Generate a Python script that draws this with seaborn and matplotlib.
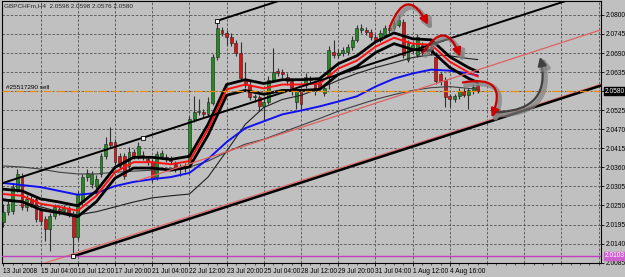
import numpy as np
import pandas as pd
import matplotlib
matplotlib.use("Agg")
import matplotlib.pyplot as plt
import matplotlib.patheffects as pe
import seaborn as sns

# GBPCHFm H4 candles, bar 0 = 13 Jul 2008 20:00
opens = [2.0203, 2.0232, 2.0235, 2.0298, 2.0335, 2.0246, 2.0269, 2.0269, 2.0235, 2.0212,
         2.0183, 2.0220, 2.0240, 2.0235, 2.0240, 2.0226, 2.0160, 2.0260, 2.0332, 2.0312,
         2.0306, 2.0341, 2.0392, 2.0433, 2.0433, 2.0392, 2.0392, 2.0364, 2.0404, 2.0392,
         2.0395, 2.0384, 2.0375, 2.0332, 2.0392, 2.0390, 2.0384, 2.0369, 2.0361, 2.0358,
         2.0369, 2.0499, 2.0519, 2.0519, 2.0513, 2.0547, 2.0679, 2.0757, 2.0748, 2.0737,
         2.0720, 2.0691, 2.0613, 2.0599, 2.0562, 2.0562, 2.0536, 2.0550, 2.0613, 2.0639,
         2.0636, 2.0622, 2.0608, 2.0550, 2.0579, 2.0599, 2.0616, 2.0605, 2.0605, 2.0576,
         2.0625, 2.0694, 2.0685, 2.0691, 2.0694, 2.0708, 2.0728, 2.0757, 2.0757, 2.0751,
         2.0737, 2.0728, 2.0743, 2.0763, 2.0763, 2.0771, 2.0780, 2.0671, 2.0700, 2.0685,
         2.0714, 2.0705, 2.0708, 2.0679, 2.0628, 2.0613, 2.0565, 2.0556, 2.0565, 2.0579,
         2.0570, 2.0579, 2.0598]
highs = [2.0255, 2.0269, 2.0315, 2.0355, 2.0344, 2.0280, 2.0278, 2.0278, 2.0243, 2.0220,
         2.0229, 2.0255, 2.0252, 2.0252, 2.0249, 2.0235, 2.0292, 2.0341, 2.0355, 2.0349,
         2.0338, 2.0401, 2.0447, 2.0476, 2.0441, 2.0401, 2.0401, 2.0418, 2.0413, 2.0433,
         2.0407, 2.0392, 2.0384, 2.0407, 2.0410, 2.0398, 2.0392, 2.0378, 2.0369, 2.0372,
         2.0507, 2.0565, 2.0556, 2.0527, 2.0562, 2.0688, 2.0783, 2.0766, 2.0757, 2.0748,
         2.0728, 2.0722, 2.0665, 2.0608, 2.0573, 2.0570, 2.0562, 2.0625, 2.0705, 2.0648,
         2.0645, 2.0631, 2.0616, 2.0593, 2.0588, 2.0631, 2.0625, 2.0613, 2.0613, 2.0599,
         2.0711, 2.0728, 2.0702, 2.0708, 2.0717, 2.0740, 2.0771, 2.0774, 2.0766, 2.0760,
         2.0745, 2.0757, 2.0771, 2.0771, 2.0786, 2.0800, 2.0788, 2.0728, 2.0722, 2.0745,
         2.0722, 2.0717, 2.0717, 2.0694, 2.0636, 2.0622, 2.0573, 2.0573, 2.0588, 2.0588,
         2.0590, 2.0602, 2.0598]
lows = [2.0189, 2.0223, 2.0226, 2.0289, 2.0237, 2.0235, 2.0246, 2.0203, 2.0194, 2.0148,
        2.0120, 2.0212, 2.0223, 2.0226, 2.0217, 2.0103, 2.0151, 2.0252, 2.0321, 2.0301,
        2.0295, 2.0332, 2.0384, 2.0415, 2.0367, 2.0355, 2.0326, 2.0355, 2.0384, 2.0384,
        2.0381, 2.0367, 2.0318, 2.0324, 2.0384, 2.0375, 2.0369, 2.0346, 2.0335, 2.0346,
        2.0361, 2.0490, 2.0510, 2.0504, 2.0504, 2.0539, 2.0671, 2.0740, 2.0714, 2.0711,
        2.0682, 2.0611, 2.0590, 2.0553, 2.0550, 2.0522, 2.0493, 2.0542, 2.0605, 2.0625,
        2.0619, 2.0599, 2.0570, 2.0527, 2.0527, 2.0590, 2.0602, 2.0570, 2.0582, 2.0565,
        2.0585, 2.0677, 2.0677, 2.0682, 2.0685, 2.0700, 2.0722, 2.0748, 2.0743, 2.0728,
        2.0720, 2.0722, 2.0737, 2.0748, 2.0757, 2.0766, 2.0677, 2.0665, 2.0691, 2.0679,
        2.0685, 2.0694, 2.0685, 2.0602, 2.0599, 2.0533, 2.0533, 2.0550, 2.0556, 2.0562,
        2.0527, 2.0573, 2.0576]
closes = [2.0232, 2.0255, 2.0303, 2.0341, 2.0246, 2.0269, 2.0255, 2.0212, 2.0206, 2.0183,
          2.0220, 2.0246, 2.0235, 2.0243, 2.0226, 2.0160, 2.0283, 2.0332, 2.0344, 2.0341,
          2.0326, 2.0392, 2.0427, 2.0424, 2.0375, 2.0364, 2.0335, 2.0404, 2.0392, 2.0421,
          2.0390, 2.0375, 2.0326, 2.0398, 2.0401, 2.0384, 2.0378, 2.0355, 2.0355, 2.0364,
          2.0499, 2.0519, 2.0522, 2.0513, 2.0550, 2.0679, 2.0763, 2.0748, 2.0737, 2.0720,
          2.0691, 2.0619, 2.0599, 2.0562, 2.0565, 2.0536, 2.0550, 2.0613, 2.0636, 2.0633,
          2.0628, 2.0608, 2.0579, 2.0585, 2.0542, 2.0622, 2.0611, 2.0579, 2.0590, 2.0590,
          2.0700, 2.0685, 2.0691, 2.0700, 2.0708, 2.0728, 2.0763, 2.0763, 2.0751, 2.0737,
          2.0728, 2.0748, 2.0763, 2.0757, 2.0777, 2.0786, 2.0685, 2.0720, 2.0714, 2.0737,
          2.0694, 2.0711, 2.0700, 2.0608, 2.0608, 2.0562, 2.0556, 2.0565, 2.0579, 2.0570,
          2.0582, 2.0593, 2.0580]

# indicator lines every 4 bars
line_bars = [0, 4, 8, 12, 16, 20, 24, 28, 32, 36, 40, 44, 48, 52, 56, 60, 64, 68,
             72, 76, 80, 84, 88, 92, 96, 100, 102]
env_upper = [2.0297, 2.0292, 2.0269, 2.0260, 2.0249, 2.0292, 2.0360, 2.0389, 2.0389,
             2.0383, 2.0392, 2.0484, 2.0599, 2.0613, 2.0602, 2.0613, 2.0613, 2.0616,
             2.0659, 2.0682, 2.0722, 2.0748, 2.0731, 2.0728, 2.0679, 2.0648, 2.0636]
env_mid = [2.0283, 2.0278, 2.0255, 2.0246, 2.0235, 2.0278, 2.0346, 2.0375, 2.0375,
           2.0369, 2.0378, 2.0470, 2.0585, 2.0599, 2.0588, 2.0599, 2.0599, 2.0602,
           2.0645, 2.0668, 2.0708, 2.0734, 2.0717, 2.0714, 2.0665, 2.0634, 2.0622]
env_lower = [2.0266, 2.0261, 2.0238, 2.0229, 2.0218, 2.0261, 2.0329, 2.0358, 2.0358,
             2.0352, 2.0361, 2.0453, 2.0568, 2.0582, 2.0571, 2.0582, 2.0582, 2.0585,
             2.0628, 2.0651, 2.0691, 2.0717, 2.0700, 2.0697, 2.0648, 2.0617, 2.0605]
ma_blue = [2.0315, 2.0309, 2.0303, 2.0292, 2.0281, 2.0286, 2.0306, 2.0318, 2.0326,
           2.0332, 2.0344, 2.0384, 2.0433, 2.0473, 2.0493, 2.0513, 2.0524, 2.0536,
           2.0550, 2.0565, 2.0593, 2.0616, 2.0631, 2.0642, 2.0639, 2.0631, 2.0625]
ma_fast = [2.0269, 2.0260, 2.0246, 2.0232, 2.0223, 2.0232, 2.0246, 2.0260, 2.0272,
           2.0278, 2.0283, 2.0332, 2.0407, 2.0484, 2.0533, 2.0556, 2.0568, 2.0588,
           2.0611, 2.0631, 2.0648, 2.0662, 2.0677, 2.0685, 2.0682, 2.0674, 2.0671]
ma_slow = [2.0364, 2.0361, 2.0355, 2.0346, 2.0341, 2.0341, 2.0346, 2.0349, 2.0352,
           2.0355, 2.0361, 2.0378, 2.0404, 2.0427, 2.0441, 2.0461, 2.0481, 2.0501,
           2.0522, 2.0539, 2.0556, 2.0570, 2.0582, 2.0590, 2.0593, 2.0588, 2.0585]

# drawn objects: (bar, price) anchors
chan_base = [(15, 2.0103), (128.5, 2.0596)]
chan_mid = [(-1, 2.0311), (128.5, 2.0873)]
chan_top = [(46, 2.0783), (128.5, 2.1141)]
pink_low = [(-1, 2.0041), (128.5, 2.0600)]
pink_trend = [(29, 2.0322), (128.5, 2.0757)]
anchor_marks = [(15, 2.0103), (30, 2.0446), (46, 2.0783)]
order_price = 2.0581
order_label = "#25517290 sell"
hline_price = 2.0103
bid_price = 2.0580
header = "GBPCHFm,H4  2.0598 2.0598 2.0576 2.0580"

tick_bars = [0, 8, 16, 24, 32, 40, 48, 56, 64, 72, 80, 88, 96]
tick_labels = ["13 Jul 2008", "15 Jul 04:00", "16 Jul 12:00", "17 Jul 20:00",
               "21 Jul 04:00", "22 Jul 12:00", "23 Jul 20:00", "25 Jul 04:00",
               "28 Jul 12:00", "29 Jul 20:00", "31 Jul 04:00", "1 Aug 12:00",
               "4 Aug 16:00"]
grid_bars = [8, 16, 24, 32, 40, 48, 56, 64, 72, 80, 88, 96, 104, 112, 120, 128]
price_ticks = [2.0800, 2.0745, 2.0690, 2.0635, 2.0580, 2.0525, 2.0470, 2.0415,
               2.0360, 2.0305, 2.0250, 2.0195, 2.0140, 2.0085]

BG = "#c0c0c0"
sns.set_style("white", {"axes.facecolor": BG, "figure.facecolor": BG})
plt.rcParams["font.family"] = ["Liberation Sans Narrow", "Liberation Sans", "DejaVu Sans"]
FS = 4.8

fig = plt.figure(figsize=(6.25, 2.77), dpi=100)
ax = fig.add_axes([0.0032, 0.0505, 0.9584, 0.9458])
ax.set_xlim(-0.3, 128.5)
ax.set_ylim(2.0084, 2.0840)

# grid
for b in grid_bars:
    ax.axvline(b, color="#505050", lw=0.6, ls=(0, (3, 2)), zorder=0)
for p in price_ticks[:-1]:
    ax.axhline(p, color="#505050", lw=0.6, ls=(0, (3, 2)), zorder=0)

# candles
df = pd.DataFrame({"o": opens, "h": highs, "l": lows, "c": closes})
df["bar"] = np.arange(len(df))
up = df["c"] >= df["o"]
ax.vlines(df["bar"], df["l"], df["h"], color="#303030", lw=0.8, zorder=2)
body = (df["c"] - df["o"]).abs().clip(lower=0.00008)
ax.bar(df["bar"], body, bottom=df[["o", "c"]].min(axis=1), width=0.62,
       color=np.where(up, "#1e8c1e", "#e01010"), edgecolor="#202020",
       linewidth=0.4, zorder=3)

# indicator lines
ind = pd.DataFrame({"bar": line_bars, "upper": env_upper, "mid": env_mid,
                    "lower": env_lower, "blue": ma_blue, "fast": ma_fast,
                    "slow": ma_slow})
sns.lineplot(data=ind, x="bar", y="slow", color="#404040", lw=0.8, ax=ax, zorder=4)
sns.lineplot(data=ind, x="bar", y="fast", color="#202020", lw=0.8, ax=ax, zorder=4)
sns.lineplot(data=ind, x="bar", y="blue", color="#1010f0", lw=1.4, ax=ax, zorder=4)
sns.lineplot(data=ind, x="bar", y="upper", color="black", lw=2.0, ax=ax, zorder=5)
sns.lineplot(data=ind, x="bar", y="lower", color="black", lw=2.0, ax=ax, zorder=5)
sns.lineplot(data=ind, x="bar", y="mid", color="#ff1010", lw=1.4, ax=ax, zorder=5)

# channel and trend lines
for pts, col, w in [(pink_low, "#e07070", 1.0), (pink_trend, "#e06060", 0.9),
                    (chan_base, "black", 1.8), (chan_mid, "black", 1.4),
                    (chan_top, "black", 1.4)]:
    xs, ys = zip(*pts)
    ax.plot(xs, ys, color=col, lw=w, zorder=6)
mx, my = zip(*anchor_marks)
ax.plot(mx, my, ls="none", marker="s", ms=3, mfc="white", mec="black", mew=0.6,
        zorder=7)

# order / price lines
ax.axhline(order_price, color="#f08c00", lw=0.9, ls=(0, (6, 2, 1, 2)), zorder=6)
ax.text(0.5, order_price + 0.0003, order_label, fontsize=4.6, va="bottom",
        ha="left", color="black", zorder=8)
ax.axhline(hline_price, color="#c040c0", lw=1.0, zorder=6)

# hand-drawn arrows
shadow = [pe.SimpleLineShadow(offset=(2, -2), shadow_color="#808080", alpha=0.7,
                              linewidth=3.5), pe.Normal()]
arrows = [((83.1, 2.0765), (91.3, 2.0771), -1.1, "#cc0000"),
          ((90.2, 2.0691), (98.2, 2.0679), -1.0, "#cc0000"),
          ((98.8, 2.0605), (105.0, 2.0504), -0.9, "#cc0000"),
          ((106.3, 2.0519), (115.4, 2.0679), 0.6, "#404040")]
for start, end, rad, col in arrows:
    a = ax.annotate("", xy=end, xytext=start, zorder=9,
                    arrowprops=dict(arrowstyle="-|>,head_length=0.5,head_width=0.25",
                                    color=col, lw=1.6, shrinkA=0, shrinkB=0,
                                    connectionstyle=f"arc3,rad={rad}"))
    a.arrow_patch.set_path_effects(shadow)

# axes styling (the black price tag stands in for the 2.0580 label)
ax.set_xticks(tick_bars)
ax.set_xticklabels(tick_labels, ha="left", fontsize=FS)
ax.set_xticks(np.arange(0, 129, 2), minor=True)
ax.yaxis.tick_right()
ax.set_yticks(price_ticks)
ax.set_yticklabels(["" if p == bid_price else f"{p:.4f}" for p in price_ticks],
                   fontsize=FS)
ax.tick_params(axis="both", which="major", length=2.5, width=0.6, pad=0.8,
               colors="black", direction="out")
ax.tick_params(axis="x", which="minor", length=1.5, width=0.5, bottom=True)
ax.tick_params(axis="x", bottom=True)
ax.set_xlabel("")
ax.set_ylabel("")
for s in ax.spines.values():
    s.set_color("black")
    s.set_linewidth(0.8)

ax.text(0.003, 0.992, header, transform=ax.transAxes, fontsize=4.6, va="top", ha="left")
yt = ax.get_yaxis_transform()
ax.text(1.006, bid_price, f"{bid_price:.4f}", transform=yt, fontsize=FS, va="center",
        ha="left", color="white", zorder=10,
        bbox=dict(boxstyle="square,pad=0.12", fc="black", ec="black"))
ax.text(1.006, hline_price + 0.0002, f"{hline_price:.4f}", transform=yt, fontsize=FS,
        va="center", ha="left", color="white", zorder=10,
        bbox=dict(boxstyle="square,pad=0.1", fc="#d060d0", ec="#d060d0"))

fig.savefig("out.png", dpi=100, facecolor=BG)
